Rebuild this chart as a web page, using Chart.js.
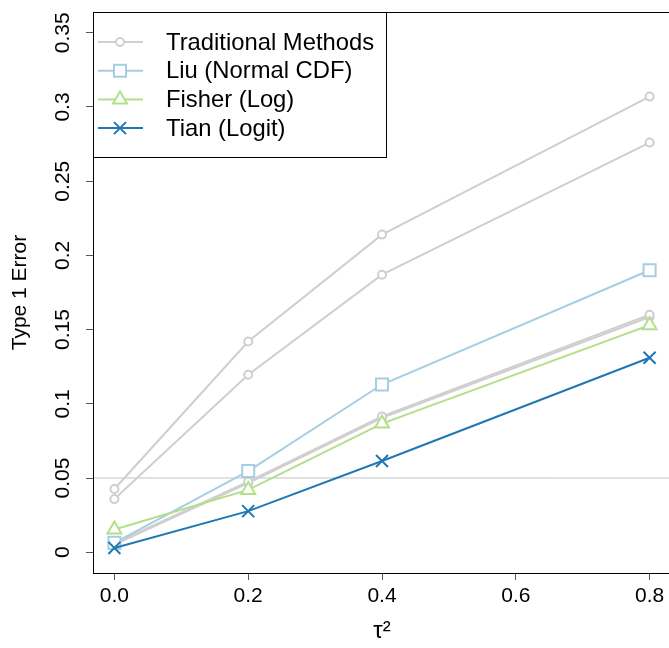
<!DOCTYPE html>
<html lang="en">
<head>
    <meta charset="UTF-8">
    <title>Type 1 Error vs tau^2</title>
    <script src="https://cdn.jsdelivr.net/npm/chart.js"></script>
    <style>
        html, body {
            margin: 0;
            padding: 0;
            overflow: hidden;
            background: #fff;
        }
        .chart-container {
            width: 674px;
            height: 648px;
        }
    </style>
</head>
<body>
    <div class="chart-container">
        <canvas id="errorChart"></canvas>
    </div>

    <script>
        // values
        const tau2 = [0.0, 0.2, 0.4, 0.8];
        const trad1 = [0.0426, 0.142, 0.214, 0.307];
        const trad2 = [0.0358, 0.1196, 0.187, 0.276];
        const trad3 = [0.0060, 0.0475, 0.0915, 0.160];
        const trad4 = [0.0052, 0.0465, 0.0905, 0.1585];
        const liu = [0.0063, 0.0547, 0.113, 0.190];
        const fisher = [0.0153, 0.0420, 0.0867, 0.153];
        const tian = [0.0029, 0.0277, 0.0615, 0.131];

        const xTicks = [0, 0.2, 0.4, 0.6, 0.8];
        const xTickLabels = ['0.0', '0.2', '0.4', '0.6', '0.8'];
        const yTicks = [0, 0.05, 0.1, 0.15, 0.2, 0.25, 0.3, 0.35];
        const yTickLabels = ['0', '0.05', '0.1', '0.15', '0.2', '0.25', '0.3', '0.35'];
        const refLevel = 0.05;

        const legendLabels = ['Traditional Methods', 'Liu (Normal CDF)', 'Fisher (Log)', 'Tian (Logit)'];

        const GRAY = '#cfcfcf';
        const LIGHTBLUE = '#a6cee3';
        const GREEN = '#b2df8a';
        const BLUE = '#1f78b4';
        const FONT = 'Liberation Sans, Arial, sans-serif';

        const toPoints = vals => vals.map((v, i) => ({ x: tau2[i], y: v }));

        function series(vals, color, style, radius, order) {
            return {
                data: toPoints(vals),
                borderColor: color,
                borderWidth: 2,
                pointStyle: style,
                pointRadius: radius,
                pointBorderWidth: 2,
                pointBorderColor: color,
                pointBackgroundColor: '#fff',
                fill: false,
                tension: 0,
                order: order
            };
        }

        const legendItems = [
            { color: GRAY, style: 'circle', radius: 4 },
            { color: LIGHTBLUE, style: 'rect', radius: 8.5 },
            { color: GREEN, style: 'triangle', radius: 8 },
            { color: BLUE, style: 'crossRot', radius: 8.5 }
        ];

        const framePlugin = {
            id: 'frame',
            beforeDraw(chart) {
                const c = chart.ctx;
                c.save();
                c.fillStyle = '#fff';
                c.fillRect(0, 0, chart.width, chart.height);
                const area = chart.chartArea;
                const y = chart.scales.y.getPixelForValue(refLevel);
                c.strokeStyle = '#c4c4c4';
                c.lineWidth = 1;
                c.beginPath();
                c.moveTo(area.left, y);
                c.lineTo(area.right, y);
                c.stroke();
                c.restore();
            },
            afterDraw(chart) {
                const c = chart.ctx;
                const area = chart.chartArea;
                const ys = chart.scales.y;
                c.save();
                // box
                c.strokeStyle = '#000';
                c.lineWidth = 1;
                c.strokeRect(area.left + 0.5, area.top + 0.5, area.right - area.left, area.bottom - area.top);

                // vertical y tick labels
                c.fillStyle = '#000';
                c.font = '21px ' + FONT;
                c.textAlign = 'center';
                c.textBaseline = 'middle';
                yTicks.forEach((v, i) => {
                    const py = ys.getPixelForValue(v);
                    c.save();
                    c.translate(63, py);
                    c.rotate(-Math.PI / 2);
                    c.fillText(yTickLabels[i], 0, 0);
                    c.restore();
                });

                // legend
                const lx = area.left, ly = area.top;
                c.fillStyle = '#fff';
                c.fillRect(lx, ly, 293, 145);
                c.strokeStyle = '#000';
                c.strokeRect(lx + 0.5, ly + 0.5, 293, 145);
                legendItems.forEach((item, i) => {
                    const rowY = ly + 30 + i * 28.7;
                    c.strokeStyle = item.color;
                    c.lineWidth = 2;
                    c.beginPath();
                    c.moveTo(lx + 5, rowY);
                    c.lineTo(lx + 50, rowY);
                    c.stroke();
                    c.fillStyle = '#fff';
                    Chart.helpers.drawPoint(c, {
                        pointStyle: item.style,
                        radius: item.radius,
                        borderWidth: 2,
                        rotation: 0
                    }, lx + 27, rowY);
                    c.fillStyle = '#000';
                    c.font = '23.8px ' + FONT;
                    c.textAlign = 'left';
                    c.textBaseline = 'middle';
                    c.fillText(legendLabels[i], lx + 73, rowY + 1);
                });
                c.restore();
            }
        };

        const ctx = document.getElementById('errorChart').getContext('2d');
        const errorChart = new Chart(ctx, {
            type: 'line',
            data: {
                datasets: [
                    series(trad1, GRAY, 'circle', 4, 4),
                    series(trad2, GRAY, 'circle', 4, 4),
                    series(trad3, GRAY, 'circle', 4, 4),
                    series(trad4, GRAY, 'circle', 4, 4),
                    series(liu, LIGHTBLUE, 'rect', 8.5, 3),
                    series(fisher, GREEN, 'triangle', 8, 2),
                    series(tian, BLUE, 'crossRot', 8.5, 1)
                ]
            },
            options: {
                responsive: true,
                maintainAspectRatio: false,
                animation: false,
                layout: {
                    autoPadding: false,
                    padding: { top: 12, right: 3, left: 0, bottom: 0 }
                },
                scales: {
                    x: {
                        type: 'linear',
                        min: -0.032,
                        max: 0.832,
                        afterBuildTicks: scale => {
                            scale.ticks = xTicks.map(v => ({ value: v }));
                        },
                        afterFit: scale => { scale.height = 75; },
                        border: { display: false },
                        grid: {
                            drawOnChartArea: false,
                            drawTicks: true,
                            tickLength: 7,
                            color: '#555'
                        },
                        ticks: {
                            color: '#000',
                            padding: 4,
                            maxRotation: 0,
                            font: { family: FONT, size: 21 },
                            callback: (v, i) => xTickLabels[i]
                        },
                        title: {
                            display: true,
                            text: 'τ²',
                            color: '#000',
                            padding: { top: 0, bottom: 2 },
                            font: { family: FONT, size: 24 }
                        }
                    },
                    y: {
                        type: 'linear',
                        min: -0.014,
                        max: 0.364,
                        afterBuildTicks: scale => {
                            scale.ticks = yTicks.map(v => ({ value: v }));
                        },
                        afterFit: scale => { scale.width = 93; },
                        border: { display: false },
                        grid: {
                            drawOnChartArea: false,
                            drawTicks: true,
                            tickLength: 7,
                            color: '#555'
                        },
                        ticks: { display: false },
                        title: {
                            display: true,
                            text: 'Type 1 Error',
                            color: '#000',
                            padding: { top: 8, bottom: 0 },
                            font: { family: FONT, size: 21 }
                        }
                    }
                },
                plugins: {
                    legend: { display: false },
                    tooltip: { enabled: false }
                }
            },
            plugins: [framePlugin]
        });
    </script>
</body>
</html>
